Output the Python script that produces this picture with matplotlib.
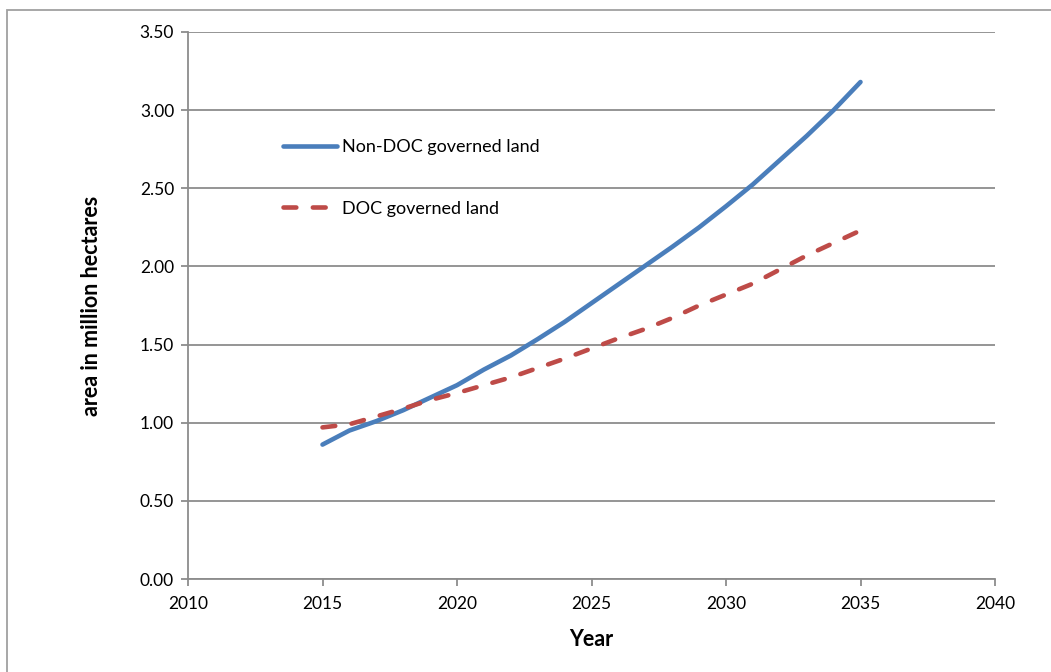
import matplotlib.pyplot as plt
from matplotlib.patches import Rectangle
from matplotlib.ticker import FormatStrFormatter

years = list(range(2015, 2036))
non_doc = [0.86, 0.95, 1.01, 1.08, 1.16, 1.24, 1.34, 1.43, 1.535, 1.645, 1.765,
           1.885, 2.005, 2.125, 2.25, 2.385, 2.525, 2.68, 2.835, 3.00, 3.18]
doc = [0.97, 0.99, 1.04, 1.09, 1.145, 1.19, 1.24, 1.29, 1.35, 1.41, 1.475,
       1.54, 1.60, 1.67, 1.75, 1.82, 1.89, 1.98, 2.07, 2.15, 2.23]

x_ticks = [2010, 2015, 2020, 2025, 2030, 2035, 2040]
y_ticks = [0.0, 0.5, 1.0, 1.5, 2.0, 2.5, 3.0, 3.5]

plt.rcParams['font.family'] = ['Lato', 'DejaVu Sans']
grey = '#8c8c8c'

fig = plt.figure(figsize=(10.51, 6.72), dpi=100)
# chart border
fig.patches.append(Rectangle((7 / 1051, -0.5), 2, 0.5 + 662 / 672, transform=fig.transFigure,
                             fill=False, edgecolor='#a0a0a0', linewidth=1.3))

ax = fig.add_axes([188 / 1051, 1 - 579 / 672, 807 / 1051, 547 / 672])
ax.plot(years, non_doc, color='#4a7ebb', lw=3.3, solid_capstyle='round',
        label='Non-DOC governed land', zorder=3)
ax.plot(years, doc, color='#be4b48', lw=3.3, dashes=(2.8, 3.6), dash_capstyle='round',
        label='DOC governed land', zorder=3)

ax.set_xlim(2010, 2040)
ax.set_ylim(0, 3.5)
ax.set_xticks(x_ticks)
ax.set_yticks(y_ticks)
ax.yaxis.set_major_formatter(FormatStrFormatter('%.2f'))
ax.grid(axis='y', color=grey, lw=1.3)
ax.set_axisbelow(True)
for s in ['top', 'right']:
    ax.spines[s].set_visible(False)
for s in ['left', 'bottom']:
    ax.spines[s].set_color(grey)
    ax.spines[s].set_linewidth(1.3)
ax.tick_params(axis='both', colors=grey, width=1.3, length=5, labelcolor='black',
               labelsize=12.5)
ax.tick_params(axis='x', pad=7)
ax.tick_params(axis='y', pad=5)

ax.set_xlabel('Year', fontsize=15.5, fontweight='bold')
ax.set_ylabel('area in million hectares', fontsize=15.5, fontweight='bold')
ax.xaxis.set_label_coords(0.5, -0.092)
ax.yaxis.set_label_coords(-0.107, 0.5)

ax.legend(loc='upper left', bbox_to_anchor=(0.106, 0.821), frameon=False, fontsize=13,
          handlelength=3.0, handletextpad=0.3, labelspacing=2.53, borderpad=0)

fig.savefig('out.png', dpi=100)
